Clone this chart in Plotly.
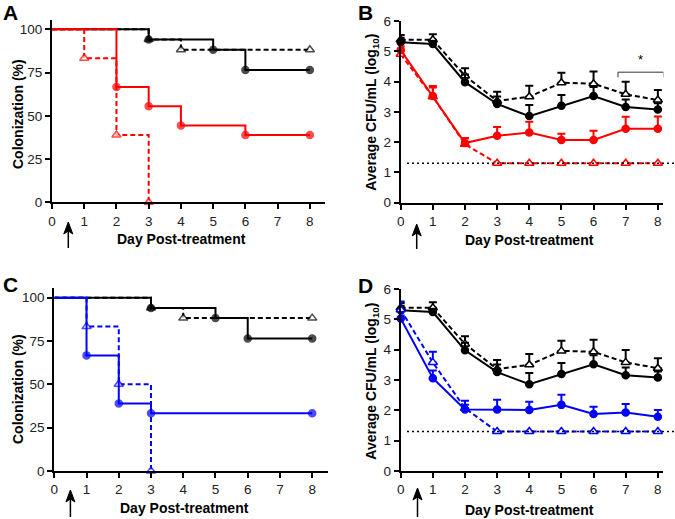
import plotly.graph_objects as go

W, H = 675, 519

# ---------------- Survival data (panels A, C) ----------------
surv_black_solid_days = [0, 3, 5, 6, 8]
surv_black_solid_pct = [100, 94.1, 88.2, 76.5, 76.5]
surv_black_dash_days = [0, 3, 4, 8]
surv_black_dash_pct = [100, 94.1, 88.2, 88.2]
surv_red_solid_days = [0, 2, 3, 4, 6, 8]
surv_red_solid_pct = [100, 66.7, 55.6, 44.4, 38.9, 38.9]
surv_red_dash_days = [0, 1, 2, 3]
surv_red_dash_pct = [100, 83.3, 38.9, 0]
surv_blue_solid_days = [0, 1, 2, 3, 8]
surv_blue_solid_pct = [100, 66.7, 38.9, 33.3, 33.3]
surv_blue_dash_days = [0, 1, 2, 3]
surv_blue_dash_pct = [100, 83.3, 50, 0]

# ---------------- CFU data (panels B, D) ----------------
days = [0, 1, 2, 3, 4, 5, 6, 7, 8]
cfu_black_solid = [5.30, 5.24, 3.98, 3.26, 2.86, 3.20, 3.52, 3.16, 3.08]
sem_black_solid = [0.15, 0.10, 0.25, 0.25, 0.37, 0.36, 0.30, 0.25, 0.20]
cfu_black_dash = [5.38, 5.38, 4.19, 3.36, 3.50, 3.96, 3.93, 3.58, 3.39]
sem_black_dash = [0.16, 0.18, 0.25, 0.30, 0.36, 0.33, 0.40, 0.41, 0.33]
cfu_red_solid = [5.04, 3.52, 1.97, 2.21, 2.32, 2.07, 2.07, 2.44, 2.44]
sem_red_solid = [0.12, 0.33, 0.17, 0.29, 0.35, 0.21, 0.31, 0.40, 0.41]
cfu_red_dash = [4.90, 3.50, 1.93, 1.30, 1.30, 1.30, 1.30, 1.30, 1.30]
sem_red_dash = [0.10, 0.30, 0.20, 0, 0, 0, 0, 0, 0]
cfu_blue_solid = [5.03, 3.06, 2.03, 2.03, 2.01, 2.18, 1.88, 1.93, 1.79]
sem_blue_solid = [0.10, 0.25, 0.15, 0.32, 0.27, 0.33, 0.24, 0.28, 0.22]
cfu_blue_dash = [5.32, 3.58, 2.07, 1.30, 1.30, 1.30, 1.30, 1.30, 1.30]
sem_blue_dash = [0.27, 0.35, 0.25, 0, 0, 0, 0, 0, 0]
detection_limit = 1.3

x_ticks = [0, 1, 2, 3, 4, 5, 6, 7, 8]
surv_ticks = [0, 25, 50, 75, 100]
cfu_ticks = [0, 1, 2, 3, 4, 5, 6]

BLACK = "#000000"
RED = "#ff0000"
BLUE = "#0000ff"
FONT = "Arial, Liberation Sans, sans-serif"


def px_x(p):
    return p / W


def px_y(p):
    return 1 - p / H


fig = go.Figure()


def surv_trace(xs, ys, color, dash, symbol, xa, ya, fills=None):
    sizes = [0] + [8 if symbol.startswith("triangle") else 7] * (len(xs) - 1)
    fig.add_trace(go.Scatter(
        x=xs, y=ys, xaxis=xa, yaxis=ya, mode="lines+markers",
        line=dict(color=color, width=2, dash=dash, shape="hv"),
        marker=dict(symbol=symbol, size=sizes,
                    color=fills if fills is not None else color,
                    line=dict(color=color, width=1.5)),
        cliponaxis=False, showlegend=False, hoverinfo="skip"))


def cfu_trace(ys, sem, color, dash, symbol, xa, ya, fill):
    fig.add_trace(go.Scatter(
        x=days, y=ys, xaxis=xa, yaxis=ya, mode="lines+markers",
        line=dict(color=color, width=2, dash=dash),
        marker=dict(symbol=symbol, size=8 if symbol.startswith("triangle") else 7,
                    color=fill, line=dict(color=color, width=1.5)),
        error_y=dict(type="data", array=sem, arrayminus=[0] * len(sem),
                     symmetric=False, color=color, thickness=2, width=4),
        cliponaxis=False, showlegend=False, hoverinfo="skip"))


DASH = "5px,3px"

# Panel A (x, y)
dash_fill_A = ["white", BLACK, "white", "white"]
surv_trace(surv_black_solid_days, surv_black_solid_pct, BLACK, "solid", "circle", "x", "y")
surv_trace(surv_black_dash_days, surv_black_dash_pct, BLACK, DASH, "triangle-up", "x", "y", dash_fill_A)
surv_trace(surv_red_dash_days, surv_red_dash_pct, RED, DASH, "triangle-up", "x", "y", ["white"] * 4)
surv_trace(surv_red_solid_days, surv_red_solid_pct, RED, "solid", "circle", "x", "y")

# Panel C (x3, y3)
surv_trace(surv_black_solid_days, surv_black_solid_pct, BLACK, "solid", "circle", "x3", "y3")
surv_trace(surv_black_dash_days, surv_black_dash_pct, BLACK, DASH, "triangle-up", "x3", "y3", dash_fill_A)
surv_trace(surv_blue_dash_days, surv_blue_dash_pct, BLUE, DASH, "triangle-up", "x3", "y3", ["white"] * 4)
surv_trace(surv_blue_solid_days, surv_blue_solid_pct, BLUE, "solid", "circle", "x3", "y3")

# Panel B (x2, y2)
cfu_trace(cfu_black_dash, sem_black_dash, BLACK, DASH, "triangle-up", "x2", "y2", "white")
cfu_trace(cfu_black_solid, sem_black_solid, BLACK, "solid", "circle", "x2", "y2", BLACK)
cfu_trace(cfu_red_dash, sem_red_dash, RED, DASH, "triangle-up", "x2", "y2", "white")
cfu_trace(cfu_red_solid, sem_red_solid, RED, "solid", "circle", "x2", "y2", RED)

# Panel D (x4, y4)
cfu_trace(cfu_black_dash, sem_black_dash, BLACK, DASH, "triangle-up", "x4", "y4", "white")
cfu_trace(cfu_black_solid, sem_black_solid, BLACK, "solid", "circle", "x4", "y4", BLACK)
cfu_trace(cfu_blue_dash, sem_blue_dash, BLUE, DASH, "triangle-up", "x4", "y4", "white")
cfu_trace(cfu_blue_solid, sem_blue_solid, BLUE, "solid", "circle", "x4", "y4", BLUE)

axis_common = dict(showline=True, linecolor="black", linewidth=2, ticks="outside",
                   ticklen=5, tickwidth=1.5, tickcolor="black", showgrid=False,
                   zeroline=False, tickfont=dict(family=FONT, size=13.5, color="#222"),
                   fixedrange=True, automargin=False)

# domains (pixel based)
A_x = (52, 325); A_y = (20, 202.3)
C_x = (54.3, 328); C_y = (288.3, 471)
B_x = (400.7, 663.3); B_y = (21, 202.7)
D_x = (400.7, 663.3); D_y = (289, 471)


def xdom(d):
    return [px_x(d[0]), px_x(d[1])]


def ydom(d):
    return [px_y(d[1]), px_y(d[0])]


fig.update_layout(
    width=W, height=H, margin=dict(l=0, r=0, t=0, b=0, autoexpand=False),
    paper_bgcolor="white", plot_bgcolor="white",
    xaxis=dict(domain=xdom(A_x), range=[0, 8.47], tickvals=x_ticks, anchor="y", **axis_common),
    yaxis=dict(domain=ydom(A_y), range=[0, 105.4], tickvals=surv_ticks, anchor="x", **axis_common),
    xaxis2=dict(domain=xdom(B_x), range=[0, 8.17], tickvals=x_ticks, anchor="y2", **axis_common),
    yaxis2=dict(domain=ydom(B_y), range=[0, 6], tickvals=cfu_ticks, anchor="x2", **axis_common),
    xaxis3=dict(domain=xdom(C_x), range=[0, 8.49], tickvals=x_ticks, anchor="y3", **axis_common),
    yaxis3=dict(domain=ydom(C_y), range=[0, 105.4], tickvals=surv_ticks, anchor="x3", **axis_common),
    xaxis4=dict(domain=xdom(D_x), range=[0, 8.17], tickvals=x_ticks, anchor="y4", **axis_common),
    yaxis4=dict(domain=ydom(D_y), range=[0, 6], tickvals=cfu_ticks, anchor="x4", **axis_common),
)

shapes = []
# detection limit dotted lines (B, D)
for yref in ("y2", "y4"):
    shapes.append(dict(type="line", xref="paper", yref=yref,
                       x0=px_x(407), x1=1.0, y0=detection_limit, y1=detection_limit,
                       line=dict(color="black", width=1.5, dash="2px,3px")))
# significance bracket in B
shapes.append(dict(type="path", xref="x2", yref="y2",
                   path="M 6.76 4.14 L 6.76 4.31 L 8.18 4.31 L 8.18 4.14",
                   line=dict(color="#333", width=1)))
# treatment arrows (pixel positions converted to paper)
for ax_px, tip, tail in ((68.3, 222, 248), (416.7, 224, 249), (70.4, 490, 517), (417.5, 488, 517)):
    x = px_x(ax_px)
    shapes.append(dict(type="line", xref="paper", yref="paper",
                       x0=x, x1=x, y0=px_y(tail), y1=px_y(tip + 6),
                       line=dict(color="black", width=1.5)))
    path = "M {:.5f} {:.5f} L {:.5f} {:.5f} L {:.5f} {:.5f} L {:.5f} {:.5f} Z".format(
        px_x(ax_px - 4.5), px_y(tip + 12), x, px_y(tip), px_x(ax_px + 4.5), px_y(tip + 12),
        x, px_y(tip + 9))
    shapes.append(dict(type="path", xref="paper", yref="paper", path=path,
                       fillcolor="black", line=dict(color="black", width=1)))
fig.update_layout(shapes=shapes)

ann = []
title_font = dict(family=FONT, size=14, color="black")
bold = lambda s: "<b>" + s + "</b>"
# x titles
for cx, cy in ((181, 239), (529, 240), (184, 508), (529.5, 510)):
    ann.append(dict(text=bold("Day Post-treatment"), x=px_x(cx), y=px_y(cy), xref="paper", yref="paper",
                    showarrow=False, xanchor="center", yanchor="middle", font=title_font))
# y titles
for cx, cy in ((18, 114), (18, 389)):
    ann.append(dict(text=bold("Colonization (%)"), x=px_x(cx), y=px_y(cy), xref="paper", yref="paper",
                    showarrow=False, xanchor="center", yanchor="middle", textangle=-90, font=title_font))
for cx, cy in ((371.7, 112), (371.7, 381)):
    ann.append(dict(text=bold("Average CFU/mL (log<sub>10</sub>)"), x=px_x(cx), y=px_y(cy), xref="paper",
                    yref="paper", showarrow=False, xanchor="center", yanchor="middle", textangle=-90,
                    font=title_font))
# panel letters
for letter, cx, top in (("A", 10, 0), ("B", 365, 0), ("C", 10, 272), ("D", 365, 273)):
    ann.append(dict(text=bold(letter), x=px_x(cx), y=px_y(top), xref="paper", yref="paper",
                    showarrow=False, xanchor="center", yanchor="top", borderpad=0,
                    font=dict(family=FONT, size=21, color="black")))
# significance star
ann.append(dict(text="*", x=7.45, y=4.4, xref="x2", yref="y2", showarrow=False,
                font=dict(family=FONT, size=13, color="black"), yanchor="bottom"))
fig.update_layout(annotations=ann)

fig.write_html("out.html", config={"displayModeBar": False},
               post_script="document.body.style.margin='0';document.body.style.padding='0';")
